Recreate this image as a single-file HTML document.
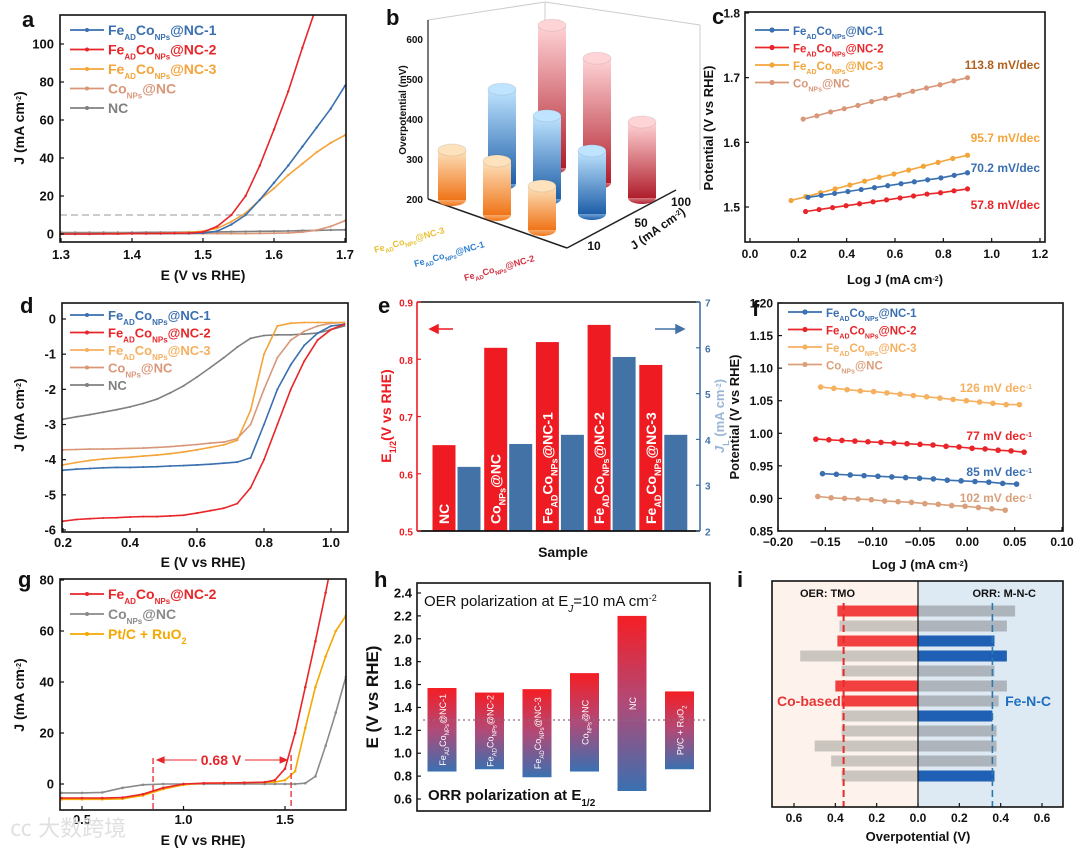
<!DOCTYPE html>
<html><head><meta charset="utf-8"><style>
body{margin:0;background:#fff}
svg{display:block;font-family:"Liberation Sans","Noto Sans CJK SC",sans-serif;font-weight:bold}
</style></head><body>
<svg id="fig" width="1080" height="849" viewBox="0 0 1080 849" xmlns="http://www.w3.org/2000/svg">
<defs>
<linearGradient id="gOr" x1="0" y1="0" x2="0" y2="1"><stop offset="0" stop-color="#fde2bd"/><stop offset="1" stop-color="#f07418"/></linearGradient>
<linearGradient id="gBl" x1="0" y1="0" x2="0" y2="1"><stop offset="0" stop-color="#bfe4ff"/><stop offset="1" stop-color="#1e5fa8"/></linearGradient>
<linearGradient id="gRd" x1="0" y1="0" x2="0" y2="1"><stop offset="0" stop-color="#ffd4d6"/><stop offset="1" stop-color="#b01e2c"/></linearGradient>
<linearGradient id="gH" x1="0" y1="0" x2="0" y2="1"><stop offset="0" stop-color="#f51e24"/><stop offset="0.5" stop-color="#b04a78"/><stop offset="1" stop-color="#3a70b0"/></linearGradient>
<clipPath id="cpA"><rect x="60" y="15" width="286" height="227"/></clipPath>
<clipPath id="cpD"><rect x="62" y="303" width="286" height="229"/></clipPath>
<clipPath id="cpG"><rect x="60" y="579" width="286" height="231"/></clipPath>
</defs>
</svg>
<script>
const NS='http://www.w3.org/2000/svg';
const svg=document.getElementById('fig');
function mk(tag,attrs,parent){const e=document.createElementNS(NS,tag);for(const k in attrs)e.setAttribute(k,attrs[k]);(parent||svg).appendChild(e);return e;}
function lin(d0,d1,r0,r1){return v=>r0+(v-d0)*(r1-r0)/(d1-d0);}
function T(x,y,html,o,name){o=o||{};const e=mk('text',{x:x,y:y,'font-size':o.fs||12,fill:o.fill||'#111','text-anchor':o.anchor||'start'});if(o.rot!==undefined)e.setAttribute('transform','rotate('+o.rot+' '+x+' '+y+')');if(o.weight)e.setAttribute('font-weight',o.weight);e.innerHTML=html;


return e;}
const sub=(s,fs)=>'<tspan baseline-shift="sub" font-size="'+(fs||8)+'">'+s+'</tspan>';
const sup=(s,fs)=>'<tspan baseline-shift="super" font-size="'+(fs||7)+'">'+s+'</tspan>';
const FE=(n,fs)=>'Fe'+sub('AD',fs)+'Co'+sub('NPs',fs)+'@NC-'+n;
const CO=(fs)=>'Co'+sub('NPs',fs)+'@NC';
function box(x,y,w,h,name){const r=mk('rect',{x:x,y:y,width:w,height:h,fill:'none',stroke:'#111','stroke-width':1.6});

}
function xAxis(sx,ticks,labels,yb,ly,fs,col){ticks.forEach((t,i)=>{const x=sx(t);const l=mk('line',{x1:x,x2:x,y1:yb,y2:yb-4,stroke:'#111','stroke-width':1.2});


T(x,ly,labels[i],{fs:fs||13,anchor:'middle',fill:col||'#111'},'x-tick-label');});}
function yAxis(sy,ticks,labels,xb,lx,fs,col,dir){ticks.forEach((t,i)=>{const y=sy(t);const l=mk('line',{x1:xb,x2:xb+(dir||4),y1:y,y2:y,stroke:col||'#111','stroke-width':1.2});


T(lx,y+4.5,labels[i],{fs:fs||13,anchor:(dir||4)>0?'end':'start',fill:col||'#111'},'y-tick-label');});}
function series(xs,ys,sx,sy,col,name,clip,mr,sw){const pts=xs.map((x,i)=>sx(x).toFixed(1)+','+sy(ys[i]).toFixed(1)).join(' ');const p=mk('polyline',{points:pts,fill:'none',stroke:col,'stroke-width':sw||1.6});if(clip)p.setAttribute('clip-path','url(#'+clip+')');


if(mr){const g=mk('g',{});if(clip)g.setAttribute('clip-path','url(#'+clip+')');xs.forEach((x,i)=>{const c=mk('circle',{cx:sx(x),cy:sy(ys[i]),r:mr,fill:col},g);

});}}
function legend(x,y,dy,items,fs,mr){items.forEach((it,i)=>{const yy=y+i*dy;const l=mk('line',{x1:x,x2:x+34,y1:yy,y2:yy,stroke:it[1],'stroke-width':1.8});


const c=mk('circle',{cx:x+17,cy:yy,r:mr||2,fill:it[1]});


T(x+38,yy+5,it[0],{fs:fs||13,fill:it[1]},'legend-entry');});}
const BL='#3a6fb0',RD='#e8262a',OR='#f3a43a',TAN='#d9977a',GR='#808080';

/* ---------- panel a ---------- */
const aE=[1.30,1.32,1.34,1.36,1.38,1.40,1.42,1.44,1.46,1.48,1.50,1.52,1.54,1.56,1.58,1.60,1.62,1.64,1.66,1.68,1.70];
const aNC2=[0,0,0,0.1,0.1,0.2,0.2,0.3,0.4,0.5,1,4,10,20,36,55,75,98,120,140,160];
const aNC1=[0,0,0,0.1,0.1,0.2,0.2,0.2,0.3,0.3,0.5,1.5,5,10,18,27,36,46,56,66,78];
const aNC3=[0,0,0,0.1,0.2,0.2,0.3,0.4,0.6,0.9,1.5,3,6.5,11,18,24,31,37,43,48,52];
const aCo=[0.2,0.2,0.2,0.2,0.2,0.2,0.2,0.2,0.2,0.2,0.2,0.2,0.2,0.2,0.3,0.4,0.6,1,2,4,7];
const aNC=[0.8,0.8,0.8,0.8,0.8,0.8,0.9,0.9,0.9,1,1,1.1,1.2,1.3,1.4,1.5,1.6,1.8,1.9,2.1,2.2];
const aXt=[1.3,1.4,1.5,1.6,1.7],aXl=['1.3','1.4','1.5','1.6','1.7'];
const aYt=[0,20,40,60,80,100],aYl=['0','20','40','60','80','100'];
{const sx=lin(1.3,1.7,61,345),sy=lin(0,100,234,44);
const dl=mk('line',{x1:60,x2:346,y1:sy(10),y2:sy(10),stroke:'#999','stroke-dasharray':'7 4','stroke-width':1});


series(aE,aNC,sx,sy,GR,'series-nc','cpA',1.2);series(aE,aCo,sx,sy,TAN,'series-co-nps','cpA',1.2);
series(aE,aNC3,sx,sy,OR,'series-nc3','cpA',1.2);series(aE,aNC1,sx,sy,BL,'series-nc1','cpA',1.2);series(aE,aNC2,sx,sy,RD,'series-nc2','cpA',1.2);
box(60,15,286,227,'plot-area-a');xAxis(sx,aXt,aXl,242,259);yAxis(sy,aYt,aYl,60,54);
T(203,280,'E (V vs RHE)',{fs:14,anchor:'middle'},'x-axis-title');T(24,128,'J (mA cm'+sup('-2')+')',{fs:14,anchor:'middle',rot:-90},'y-axis-title');
legend(70,30,19.5,[[FE(1),BL],[FE(2),RD],[FE(3),OR],[CO(),TAN],['NC',GR]],14);
T(22,27,'a',{fs:22},'panel-label');}

/* ---------- panel b (3D) ---------- */
const bSamples=['NC-3','NC-1','NC-2'];
const bJ=['10','50','100'];
const bV10=[325,335,310],bV50=[437,408,358],bV100=[557,512,390];
{const ox=452,oy=200,ux=45,uy=15,vx=50,vy=-16,k=0.4;
const wall=[[428,20,545,2],[545,2,700,25],[545,2,545,170],[428,20,428,199],[700,25,700,190]];
wall.forEach(w=>{const l=mk('line',{x1:w[0],y1:w[1],x2:w[2],y2:w[3],stroke:'#ccc','stroke-width':1});

});
[[428,199,567,248],[567,248,676,190]].forEach(w=>{const l=mk('line',{x1:w[0],y1:w[1],x2:w[2],y2:w[3],stroke:'#222','stroke-width':1.5});

});
const sy=v=>199-(v-200)*k;
const bl=mk('line',{x1:428,y1:199,x2:428,y2:20,stroke:'#222','stroke-width':1.2});


[200,300,400,500,600].forEach(v=>T(423,sy(v)+4,String(v),{fs:10,anchor:'end'},'z-tick-label'));
T(406,110,'Overpotential (mV)',{fs:10,anchor:'middle',rot:-90},'z-axis-title');
const cols=['gOr','gBl','gRd'],tops=['#fde2bd','#bfe4ff','#ffd4d6'];const vals=[bV10,bV50,bV100];
const list=[];for(let j=0;j<3;j++)for(let s=0;s<3;s++)list.push([s,j]);
list.sort((a,b)=>(oy+a[0]*uy+a[1]*vy)-(oy+b[0]*uy+b[1]*vy));
list.forEach(([s,j])=>{const cx=ox+s*ux+j*vx,cy=oy+s*uy+j*vy,h=(vals[j][s]-200)*k,rx=14,ry=6;
const g=mk('g',{});


mk('ellipse',{cx:cx,cy:cy,rx:rx,ry:ry,fill:'url(#'+cols[j]+')'},g);
mk('rect',{x:cx-rx,y:cy-h,width:2*rx,height:h,fill:'url(#'+cols[j]+')'},g);
mk('ellipse',{cx:cx,cy:cy-h,rx:rx,ry:ry,fill:tops[j],stroke:'rgba(0,0,0,0.08)'},g);});
T(410,243,'Fe'+sub('AD',6)+'Co'+sub('NPs',6)+'@NC-3',{fs:9,fill:'#e8bf30',anchor:'middle',rot:-16},'sample-label');
T(450,257,'Fe'+sub('AD',6)+'Co'+sub('NPs',6)+'@NC-1',{fs:9,fill:'#2f7fd0',anchor:'middle',rot:-16},'sample-label');
T(500,271,'Fe'+sub('AD',6)+'Co'+sub('NPs',6)+'@NC-2',{fs:9,fill:'#d03040',anchor:'middle',rot:-16},'sample-label');
T(594,250,'10',{fs:12,anchor:'middle'},'j-label');T(641,227,'50',{fs:12,anchor:'middle'},'j-label');T(681,206,'100',{fs:12,anchor:'middle'},'j-label');
T(660,232,'J (mA cm'+sup('-2')+')',{fs:12,anchor:'middle',rot:-35},'j-axis-title');
T(386,25,'b',{fs:22},'panel-label');}

/* ---------- panel c ---------- */
const cCoX=[0.22,0.9],cCo=[1.636,1.641,1.647,1.652,1.657,1.663,1.668,1.673,1.679,1.684,1.689,1.695,1.700];
const c3X=[0.17,0.9],c3=[1.510,1.516,1.522,1.528,1.534,1.540,1.546,1.551,1.557,1.563,1.569,1.575,1.580];
const c1X=[0.24,0.9],c1=[1.515,1.518,1.521,1.524,1.527,1.530,1.533,1.536,1.539,1.542,1.545,1.549,1.553];
const c2X=[0.23,0.9],c2=[1.493,1.496,1.499,1.502,1.505,1.508,1.511,1.514,1.517,1.520,1.522,1.525,1.528];
const cXt=[0,0.2,0.4,0.6,0.8,1.0,1.2],cXl=['0.0','0.2','0.4','0.6','0.8','1.0','1.2'];
const cYt=[1.5,1.6,1.7,1.8],cYl=['1.5','1.6','1.7','1.8'];
function spread(r,n){const a=[];for(let i=0;i<n;i++)a.push(r[0]+(r[1]-r[0])*i/(n-1));return a;}
{const sx=lin(0,1.2,750,1040),sy=lin(1.5,1.8,207,13);
series(spread(cCoX,cCo.length),cCo,sx,sy,TAN,'series-co-nps',null,2.6);series(spread(c3X,c3.length),c3,sx,sy,OR,'series-nc3',null,2.6);
series(spread(c1X,c1.length),c1,sx,sy,BL,'series-nc1',null,2.6);series(spread(c2X,c2.length),c2,sx,sy,RD,'series-nc2',null,2.6);
box(745,12,300,230,'plot-area-c');xAxis(sx,cXt,cXl,242,258,12);yAxis(sy,cYt,cYl,745,740,12);
T(895,284,'Log J (mA cm'+sup('-2')+')',{fs:13,anchor:'middle'},'x-axis-title');T(713,128,'Potential (V vs RHE)',{fs:13,anchor:'middle',rot:-90},'y-axis-title');
legend(755,30,17.5,[[FE(1,7),BL],[FE(2,7),RD],[FE(3,7),OR],[CO(7),TAN]],11.5,2.6);
T(1040,69,'113.8 mV/dec',{fs:12,anchor:'end',fill:'#b0601c'},'slope-label');T(1040,142,'95.7 mV/dec',{fs:12,anchor:'end',fill:OR},'slope-label');
T(1040,172,'70.2 mV/dec',{fs:12,anchor:'end',fill:BL},'slope-label');T(1040,209,'57.8 mV/dec',{fs:12,anchor:'end',fill:RD},'slope-label');
T(712,24,'c',{fs:22},'panel-label');}

/* ---------- panel d ---------- */
const dE=[0.2,0.24,0.28,0.32,0.36,0.40,0.44,0.48,0.52,0.56,0.60,0.64,0.68,0.72,0.76,0.80,0.84,0.88,0.92,0.96,1.00,1.04];
const dNC2=[-5.75,-5.7,-5.68,-5.66,-5.65,-5.63,-5.62,-5.62,-5.6,-5.58,-5.52,-5.45,-5.38,-5.25,-4.8,-4.0,-3.0,-2.0,-1.2,-0.6,-0.3,-0.15];
const dNC1=[-4.3,-4.27,-4.25,-4.23,-4.22,-4.22,-4.21,-4.2,-4.18,-4.17,-4.15,-4.13,-4.1,-4.07,-3.95,-3.0,-2.0,-1.3,-0.75,-0.4,-0.2,-0.15];
const dNC3=[-4.15,-4.08,-4.02,-3.98,-3.95,-3.93,-3.9,-3.87,-3.83,-3.78,-3.72,-3.65,-3.58,-3.45,-2.6,-1.0,-0.2,-0.12,-0.1,-0.1,-0.1,-0.1];
const dCo=[-3.72,-3.71,-3.7,-3.7,-3.69,-3.68,-3.67,-3.65,-3.63,-3.6,-3.57,-3.53,-3.5,-3.4,-3.0,-2.0,-1.1,-0.6,-0.35,-0.2,-0.12,-0.1];
const dNC=[-2.85,-2.78,-2.72,-2.65,-2.58,-2.5,-2.4,-2.28,-2.1,-1.9,-1.65,-1.38,-1.1,-0.8,-0.55,-0.47,-0.45,-0.45,-0.43,-0.4,-0.3,-0.2];
const dXt=[0.2,0.4,0.6,0.8,1.0],dXl=['0.2','0.4','0.6','0.8','1.0'];
const dYt=[0,-1,-2,-3,-4,-5,-6],dYl=['0','-1','-2','-3','-4','-5','-6'];
{const sx=lin(0.2,1.0,63,331),sy=lin(0,-6,319,530);
series(dE,dNC,sx,sy,GR,'series-nc','cpD',1);series(dE,dCo,sx,sy,TAN,'series-co-nps','cpD',1);series(dE,dNC3,sx,sy,OR,'series-nc3','cpD',1);
series(dE,dNC1,sx,sy,BL,'series-nc1','cpD',1);series(dE,dNC2,sx,sy,RD,'series-nc2','cpD',1);
box(62,303,286,229,'plot-area-d');xAxis(sx,dXt,dXl,532,547);yAxis(sy,dYt,dYl,62,56);
T(203,567,'E (V vs RHE)',{fs:14,anchor:'middle'},'x-axis-title');T(24,415,'J (mA cm'+sup('-2')+')',{fs:14,anchor:'middle',rot:-90},'y-axis-title');
legend(70,315,17.5,[[FE(1),BL],[FE(2),RD],[FE(3),'#f5b060'],[CO(),TAN],['NC',GR]],13);
T(20,313,'d',{fs:22},'panel-label');}

/* ---------- panel e ---------- */
const eCats=['NC',CO(9),FE(1,9),FE(2,9),FE(3,9)];
const eE12=[0.65,0.82,0.83,0.86,0.79];
const eJL=[3.4,3.9,4.1,5.8,4.1];
const eLT=[0.5,0.6,0.7,0.8,0.9],eLL=['0.5','0.6','0.7','0.8','0.9'];
const eRT=[2,3,4,5,6,7],eRL=['2','3','4','5','6','7'];
{const syL=lin(0.5,0.9,531,302),syR=lin(2,7,531,302),x0=444,step=51.7,bw=23;
T(724,416,'<tspan font-style="italic">J</tspan>'+sub('L',9)+' (mA cm'+sup('-2')+')',{fs:13,anchor:'middle',rot:-90,fill:'#9ab6d6'},'right-y-axis-title');
eE12.forEach((v,i)=>{const cx=x0+i*step;const r=mk('rect',{x:cx-bw/2,y:syL(v),width:bw,height:531-syL(v),fill:'#ee1c22'});


T(cx+5,524,eCats[i],{fs:14,fill:'#fff',rot:-90},'bar-category-label');});
eJL.forEach((v,i)=>{const cx=x0+25+i*step;const r=mk('rect',{x:cx-bw/2,y:syR(v),width:bw,height:531-syR(v),fill:'#4272a6'});

});
const top=mk('line',{x1:417,x2:700,y1:302,y2:302,stroke:'#111','stroke-width':1.6});


const bot=mk('line',{x1:417,x2:700,y1:531,y2:531,stroke:'#111','stroke-width':1.8});


const la=mk('line',{x1:417,x2:417,y1:302,y2:531,stroke:'#ee1c22','stroke-width':1.6});


const ra=mk('line',{x1:700,x2:700,y1:302,y2:531,stroke:'#4272a6','stroke-width':1.6});


yAxis(syL,eLT,eLL,417,413,10,'#ee1c22');yAxis(syR,eRT,eRL,700,705,10,'#4272a6',-4);
const a1=mk('path',{d:'M453,329 H430 M430,329 l8,-4 v8 z',stroke:'#ee1c22',fill:'#ee1c22','stroke-width':1.5});


const a2=mk('path',{d:'M655,329 H684 M684,329 l-8,-4 v8 z',stroke:'#4272a6',fill:'#4272a6','stroke-width':1.5});


T(563,557,'Sample',{fs:14,anchor:'middle'},'x-axis-title');
T(391,416,'E'+sub('1/2',9)+'(V vs RHE)',{fs:14,anchor:'middle',rot:-90,fill:'#ee1c22'},'left-y-axis-title');
T(378,313,'e',{fs:22},'panel-label');}

/* ---------- panel f ---------- */
const f3X=[-0.155,0.055],f3=[1.071,1.069,1.067,1.065,1.064,1.062,1.060,1.058,1.056,1.054,1.052,1.050,1.048,1.046,1.044,1.044];
const f2X=[-0.16,0.06],f2=[0.991,0.990,0.989,0.988,0.987,0.986,0.985,0.984,0.983,0.982,0.980,0.979,0.977,0.976,0.974,0.973,0.971];
const f1X=[-0.153,0.052],f1=[0.938,0.937,0.936,0.935,0.934,0.933,0.932,0.931,0.930,0.928,0.927,0.926,0.925,0.923,0.922];
const fCX=[-0.158,0.04],fC=[0.903,0.901,0.900,0.899,0.898,0.896,0.895,0.894,0.892,0.891,0.889,0.888,0.886,0.884,0.882];
const fXt=[-0.2,-0.15,-0.1,-0.05,0,0.05,0.1],fXl=['−0.20','−0.15','−0.10','−0.05','0.00','0.05','0.10'];
const fYt=[0.85,0.9,0.95,1.0,1.05,1.1,1.15,1.2],fYl=['0.85','0.90','0.95','1.00','1.05','1.10','1.15','1.20'];
{const sx=lin(-0.2,0.1,778,1062),sy=lin(0.85,1.2,531,303);
series(spread(f3X,f3.length),f3,sx,sy,'#f5b060','series-nc3',null,2.8);series(spread(f2X,f2.length),f2,sx,sy,RD,'series-nc2',null,2.8);
series(spread(f1X,f1.length),f1,sx,sy,BL,'series-nc1',null,2.8);series(spread(fCX,fC.length),fC,sx,sy,'#daa07c','series-co-nps',null,2.8);
box(778,303,285,228,'plot-area-f');xAxis(sx,fXt,fXl,531,546,12);yAxis(sy,fYt,fYl,778,773,12);
T(920,569,'Log J (mA cm'+sup('-2')+')',{fs:13,anchor:'middle'},'x-axis-title');
T(739,417,'Potential (V vs RHE)',{fs:13,anchor:'middle',rot:-90},'y-axis-title');
legend(788,312,17.5,[[FE(1,7),BL],[FE(2,7),RD],[FE(3,7),'#f5b060'],[CO(7),'#daa07c']],11.5,2.6);
T(1032,392,'126 mV dec'+sup('-1'),{fs:12,anchor:'end',fill:'#f5b060'},'slope-label');
T(1032,440,'77 mV dec'+sup('-1'),{fs:12,anchor:'end',fill:RD},'slope-label');
T(1032,476,'85 mV dec'+sup('-1'),{fs:12,anchor:'end',fill:BL},'slope-label');
T(1032,502,'102 mV dec'+sup('-1'),{fs:12,anchor:'end',fill:'#daa07c'},'slope-label');
T(752,316,'f',{fs:22},'panel-label');}

/* ---------- panel g ---------- */
const gE=[0.4,0.5,0.6,0.7,0.8,0.9,1.0,1.1,1.2,1.3,1.4,1.45,1.5,1.55,1.6,1.65,1.7,1.75,1.8];
const gNC2=[-5.5,-5.5,-5.5,-5.3,-4,-1.5,0,0.3,0.4,0.5,0.7,1.5,6,20,38,56,75,95,110];
const gCo=[-3.5,-3.5,-3.3,-1.5,-0.3,0,0,0,0,0,0,0,0,0,0.3,3,15,28,42];
const gPt=[-6,-6,-6,-5.8,-4.5,-2,-0.3,0.3,0.4,0.5,0.6,0.8,1.5,5,22,38,50,60,66];
const gXt=[0.5,1.0,1.5],gXl=['0.5','1.0','1.5'];
const gYt=[0,20,40,60,80],gYl=['0','20','40','60','80'];
{const sx=lin(0.5,1.5,82,285),sy=lin(0,80,784,580);
series(gE,gCo,sx,sy,'#8a8a8a','series-co-nps','cpG',1.3);series(gE,gPt,sx,sy,'#f5a800','series-ptc-ruo2','cpG',1.3);series(gE,gNC2,sx,sy,RD,'series-nc2','cpG',1.3);
box(60,579,286,231,'plot-area-g');xAxis(sx,gXt,gXl,810,824);yAxis(sy,gYt,gYl,60,54);
[[0.85,758],[1.53,755]].forEach(d=>{const l=mk('line',{x1:sx(d[0]),x2:sx(d[0]),y1:d[1],y2:810,stroke:RD,'stroke-dasharray':'6 3','stroke-width':1.3});

});
const ar=mk('path',{d:'M'+(sx(0.85)+4)+',760 H'+(sx(1.53)-4)+' M'+(sx(0.85)+4)+',760 l7,-3 v6 z M'+(sx(1.53)-4)+',760 l-7,-3 v6 z',stroke:RD,fill:RD,'stroke-width':1});


const bg=mk('rect',{x:197,y:751,width:48,height:17,fill:'#fff'});


T(221,765,'0.68 V',{fs:14,anchor:'middle',fill:RD},'gap-label');
T(203,845,'E (V vs RHE)',{fs:14,anchor:'middle'},'x-axis-title');T(24,695,'J (mA cm'+sup('-2')+')',{fs:14,anchor:'middle',rot:-90},'y-axis-title');
legend(70,594,20,[[FE(2),RD],[CO(),'#8a8a8a'],['Pt/C + RuO'+sub('2',9),'#f5a800']],14);
T(18,587,'g',{fs:22},'panel-label');
T(10,836,'㏄ 大数跨境',{fs:22,fill:'#e0e0e0',weight:'normal'},'watermark');}

/* ---------- panel h ---------- */
const hCats=[FE(1,6),FE(2,6),FE(3,6),CO(6),'NC','Pt/C + RuO'+sub('2',6)];
const hOER=[1.57,1.53,1.56,1.70,2.20,1.54];
const hORR=[0.84,0.86,0.79,0.84,0.67,0.86];
const hYt=[0.6,0.8,1.0,1.2,1.4,1.6,1.8,2.0,2.2,2.4],hYl=['0.6','0.8','1.0','1.2','1.4','1.6','1.8','2.0','2.2','2.4'];
{const sy=lin(0.6,2.4,799,593),x0=442,step=47.5,bw=29;
hOER.forEach((v,i)=>{const cx=x0+i*step;const r=mk('rect',{x:cx-bw/2,y:sy(v),width:bw,height:sy(hORR[i])-sy(v),fill:'url(#gH)'});


T(cx+4,(sy(v)+sy(hORR[i]))/2,hCats[i],{fs:9,fill:'#fff',anchor:'middle',rot:-90,weight:'normal'},'bar-category-label');});
const dl=mk('line',{x1:423,x2:708,y1:sy(1.29),y2:sy(1.29),stroke:'#8a6a80','stroke-dasharray':'2 3','stroke-width':1.2});


box(417,583,293,228,'plot-area-h');yAxis(sy,hYt,hYl,417,412,13);
T(378,697,'E (V vs RHE)',{fs:17,anchor:'middle',rot:-90},'y-axis-title');
T(424,606,'OER polarization at E<tspan font-style="italic" baseline-shift="sub" font-size="10">J</tspan>=10 mA cm'+sup('-2',9),{fs:15,weight:'normal'},'annotation-oer');
T(428,800,'ORR polarization at E'+sub('1/2',10),{fs:15},'annotation-orr');
T(374,587,'h',{fs:22},'panel-label');}

/* ---------- panel i ---------- */
const iOER=[0.39,0.38,0.39,0.57,0.37,0.40,0.37,0.37,0.37,0.50,0.42,0.37];
const iOERco=[1,0,1,0,0,1,1,0,0,0,0,0];
const iORR=[0.47,0.43,0.37,0.43,0.37,0.43,0.39,0.36,0.38,0.38,0.38,0.37];
const iORRfe=[0,0,1,1,0,0,0,1,0,0,0,1];
const iXt=[-0.6,-0.4,-0.2,0,0.2,0.4,0.6],iXl=['0.6','0.4','0.2','0.0','0.2','0.4','0.6'];
{const sx=lin(0,0.6,918,1042),y0=611,dy=15,bh=11;
const b1=mk('rect',{x:772,y:581,width:146,height:226,fill:'#fdf3ec'});


const b2=mk('rect',{x:918,y:581,width:145,height:226,fill:'#dde9f3'});


iOER.forEach((v,i)=>{const r=mk('rect',{x:sx(-v),y:y0+i*dy-bh/2,width:sx(0)-sx(-v),height:bh,fill:iOERco[i]?'#f24040':'#cbc5c0'});

});
iORR.forEach((v,i)=>{const r=mk('rect',{x:sx(0),y:y0+i*dy-bh/2,width:sx(v)-sx(0),height:bh,fill:iORRfe[i]?'#1f5fb4':'#aeb4bb'});

});
const m1=mk('line',{x1:sx(-0.36),x2:sx(-0.36),y1:603,y2:807,stroke:'#e82a2a','stroke-dasharray':'7 4','stroke-width':2});


const m2=mk('line',{x1:sx(0.36),x2:sx(0.36),y1:603,y2:807,stroke:'#2a7ab0','stroke-dasharray':'7 4','stroke-width':1.6});


const z=mk('line',{x1:918,x2:918,y1:581,y2:807,stroke:'#111','stroke-width':1.2});


box(772,581,291,226,'plot-area-i');xAxis(sx,iXt,iXl,807,822,12);
T(918,841,'Overpotential (V)',{fs:13,anchor:'middle'},'x-axis-title');
T(800,597,'OER: TMO',{fs:11},'region-label');T(1036,597,'ORR: M-N-C',{fs:11,anchor:'end'},'region-label');
T(777,706,'Co-based',{fs:14,fill:'#e83535'},'group-label');T(1051,706,'Fe-N-C',{fs:14,fill:'#1f6fc0',anchor:'end'},'group-label');
T(737,587,'i',{fs:22},'panel-label');}
</script>
</body></html>
